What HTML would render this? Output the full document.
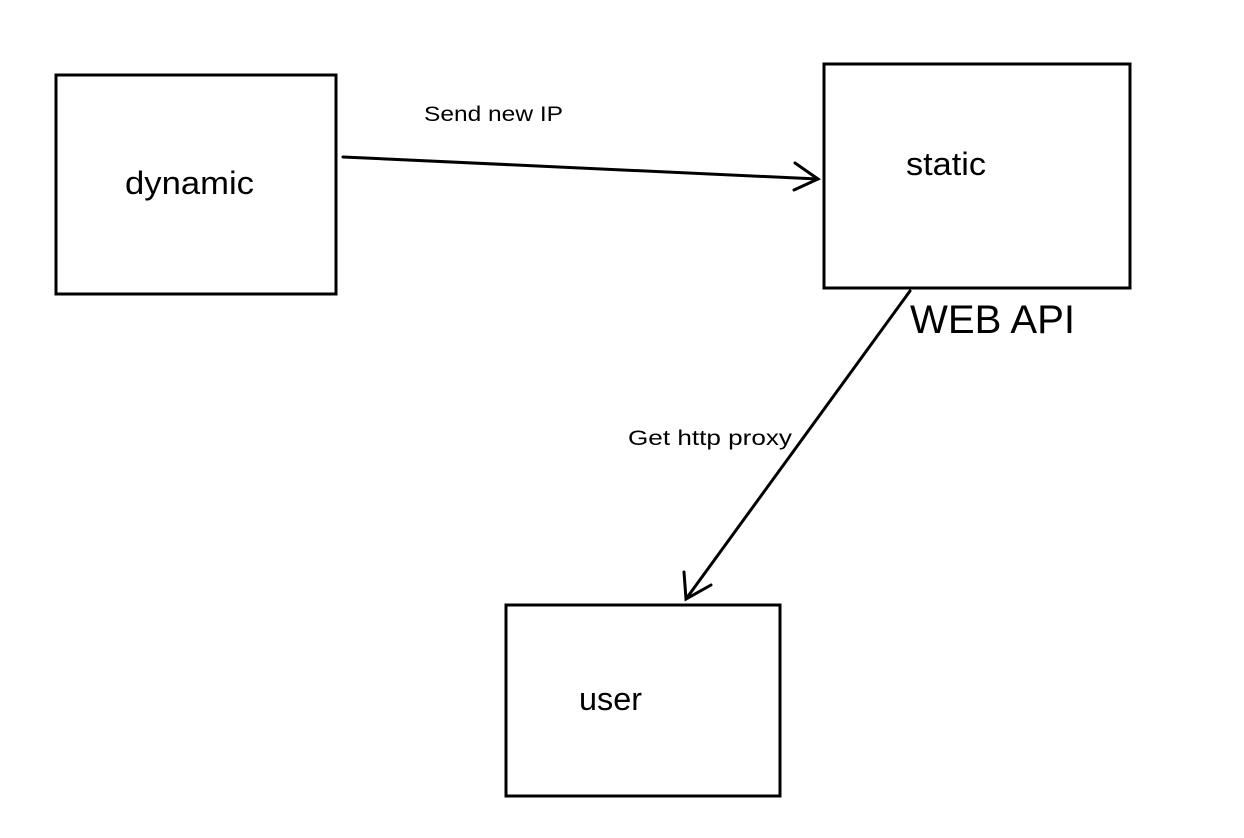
<!DOCTYPE html>
<html><head><meta charset="utf-8"><style>
html,body{margin:0;padding:0;background:#fff;}
svg{display:block}
text{font-family:"Liberation Sans",sans-serif;fill:#000}
</style></head><body>
<svg width="1244" height="838" viewBox="0 0 1244 838" xmlns="http://www.w3.org/2000/svg">
<rect x="56" y="75" width="280" height="219" fill="none" stroke="#000" stroke-width="3"/>
<rect x="824" y="64" width="306" height="224" fill="none" stroke="#000" stroke-width="3"/>
<rect x="506" y="605" width="274" height="191" fill="none" stroke="#000" stroke-width="3"/>
<g stroke="#000" stroke-width="3" fill="none" stroke-linecap="round">
<line x1="343" y1="157" x2="818" y2="179"/>
<polyline points="795,163 818,179 794,190"/>
<line x1="910" y1="291" x2="686" y2="599"/>
<polyline points="684,572 686,599 711,585"/>
</g>
<text x="424" y="121" font-size="21" textLength="139" lengthAdjust="spacingAndGlyphs">Send new IP</text>
<text x="125" y="194" font-size="32" textLength="129" lengthAdjust="spacingAndGlyphs">dynamic</text>
<text x="906" y="175" font-size="32" textLength="80" lengthAdjust="spacingAndGlyphs">static</text>
<text x="910" y="333" font-size="40" textLength="165" lengthAdjust="spacingAndGlyphs">WEB API</text>
<text x="628" y="445" font-size="21" textLength="164" lengthAdjust="spacingAndGlyphs">Get http proxy</text>
<text x="579" y="710" font-size="32" textLength="63" lengthAdjust="spacingAndGlyphs">user</text>
</svg>
</body></html>
